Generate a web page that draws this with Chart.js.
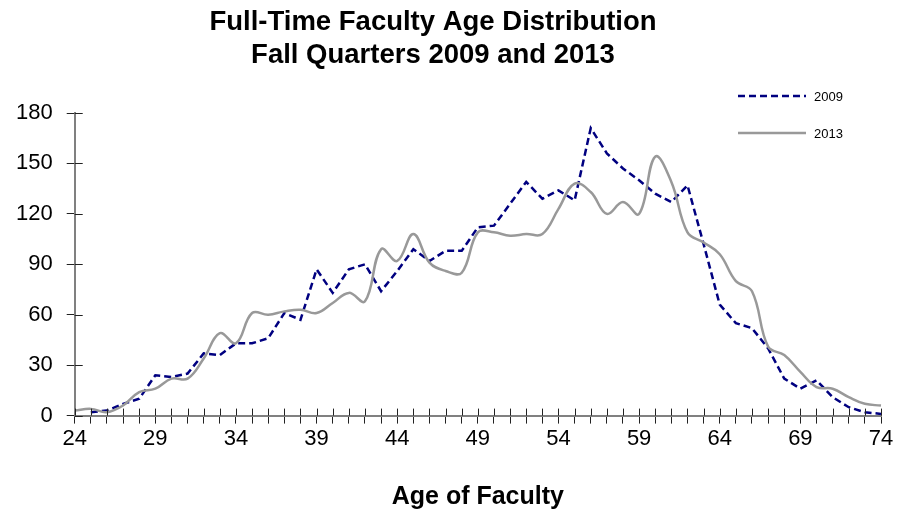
<!DOCTYPE html>
<html>
<head>
<meta charset="utf-8">
<title>Full-Time Faculty Age Distribution</title>
<script src="https://cdn.jsdelivr.net/npm/chart.js@4/dist/chart.umd.min.js"></script>
<style>
  html, body { margin: 0; padding: 0; background: #fff; }
  #wrap { width: 898px; height: 516px; position: relative; }
</style>
</head>
<body>
<div id="wrap"><canvas id="ages"></canvas></div>
<script>
const ages = [24,25,26,27,28,29,30,31,32,33,34,35,36,37,38,39,40,41,42,43,44,45,46,47,48,49,
              50,51,52,53,54,55,56,57,58,59,60,61,62,63,64,65,66,67,68,69,70,71,72,73,74];

// faculty counts per age
const fall2009 = [null,2,3,7,10,24,23,25,37,36,43,43,46,61,57,87,73,87,90,74,86,99,92,98,98,112,
                  113,126,139,129,134,128,171,156,147,140,132,127,137,102,66,55,52,40,22,16,21,11,5,2,1];
const fall2013 = [3,4,2,6,14,16,22,22,34,49,43,61,60,62,63,61,67,73,68,99,92,108,91,86,85,109,
                  109,107,108,108,123,138,133,120,127,120,154,139,109,103,96,80,74,41,36,26,17,16,11,7,6];

const yTicks = [0,30,60,90,120,150,180];
const titleLines = ['Full-Time Faculty Age Distribution', 'Fall Quarters 2009 and 2013'];

const FONT = 'Arial, "Liberation Sans", sans-serif';

// tick marks in Excel style cross the axis, the library draws only the outer half
const crossTicks = {
    id: 'crossTicks',
    afterDraw(chart) {
        const ctx = chart.ctx;
        const x = chart.scales.x, y = chart.scales.y;
        ctx.save();
        ctx.strokeStyle = '#222';
        ctx.lineWidth = 1;
        x.ticks.forEach((t, i) => {
            const px = Math.round(x.getPixelForTick(i)) + 0.5;
            ctx.beginPath();
            ctx.moveTo(px, y.bottom);
            ctx.lineTo(px, y.bottom - 7);
            ctx.stroke();
        });
        y.ticks.forEach((t, i) => {
            const py = Math.round(y.getPixelForTick(i)) + 0.5;
            ctx.beginPath();
            ctx.moveTo(x.left, py);
            ctx.lineTo(x.left + 8, py);
            ctx.stroke();
        });
        ctx.restore();
    }
};

// two line title and the stacked legend at the top right
const headerAndLegend = {
    id: 'headerAndLegend',
    afterDraw(chart) {
        const ctx = chart.ctx;
        ctx.save();
        ctx.fillStyle = '#000';
        ctx.textAlign = 'center';
        ctx.textBaseline = 'middle';
        ctx.font = 'bold 27.5px ' + FONT;
        titleLines.forEach((t, i) => ctx.fillText(t, 433, 22 + i * 33));

        ctx.textAlign = 'left';
        ctx.font = '13px ' + FONT;
        chart.data.datasets.forEach((ds, i) => {
            const ly = 96 + i * 37;
            ctx.strokeStyle = ds.borderColor;
            ctx.lineWidth = ds.borderWidth;
            ctx.setLineDash(ds.borderDash || []);
            ctx.beginPath();
            ctx.moveTo(738, ly);
            ctx.lineTo(806, ly);
            ctx.stroke();
            ctx.setLineDash([]);
            ctx.fillText(ds.label, 814, ly + 1);
        });
        ctx.restore();
    }
};

new Chart(document.getElementById('ages'), {
    type: 'line',
    data: {
        labels: ages,
        datasets: [
            { label: '2009', data: fall2009, borderColor: '#000080', borderWidth: 2.5,
              borderDash: [7, 4], tension: 0, pointRadius: 0, order: 2 },
            { label: '2013', data: fall2013, borderColor: '#999999', borderWidth: 2.5,
              tension: 0.4, pointRadius: 0, order: 1 }
        ]
    },
    options: {
        responsive: true,
        maintainAspectRatio: false,
        animation: false,
        layout: { padding: { top: 113, left: 2, right: 17, bottom: 4 } },
        plugins: {
            legend: { display: false },
            title: { display: false },
            tooltip: { enabled: false }
        },
        scales: {
            x: {
                offset: false,
                grid: { drawOnChartArea: false, tickLength: 8, color: '#222' },
                border: { color: '#808080', width: 2 },
                ticks: {
                    autoSkip: false, maxRotation: 0, padding: 2, color: '#000',
                    font: { family: FONT, size: 22 },
                    callback: function (v) {
                        const a = this.getLabelForValue(v);
                        return (a - ages[0]) % 5 === 0 ? a : '';
                    }
                },
                title: { display: true, text: 'Age of Faculty', color: '#000',
                         font: { family: FONT, size: 25, weight: 'bold' }, padding: { top: 28, bottom: 0 } }
            },
            y: {
                min: yTicks[0], max: yTicks[yTicks.length - 1],
                afterBuildTicks: s => { s.ticks = yTicks.map(v => ({ value: v })); },
                grid: { drawOnChartArea: false, tickLength: 8, color: '#222' },
                border: { color: '#808080', width: 2 },
                ticks: { padding: 14, color: '#000', font: { family: FONT, size: 22 } }
            }
        }
    },
    plugins: [crossTicks, headerAndLegend]
});
</script>
</body>
</html>
